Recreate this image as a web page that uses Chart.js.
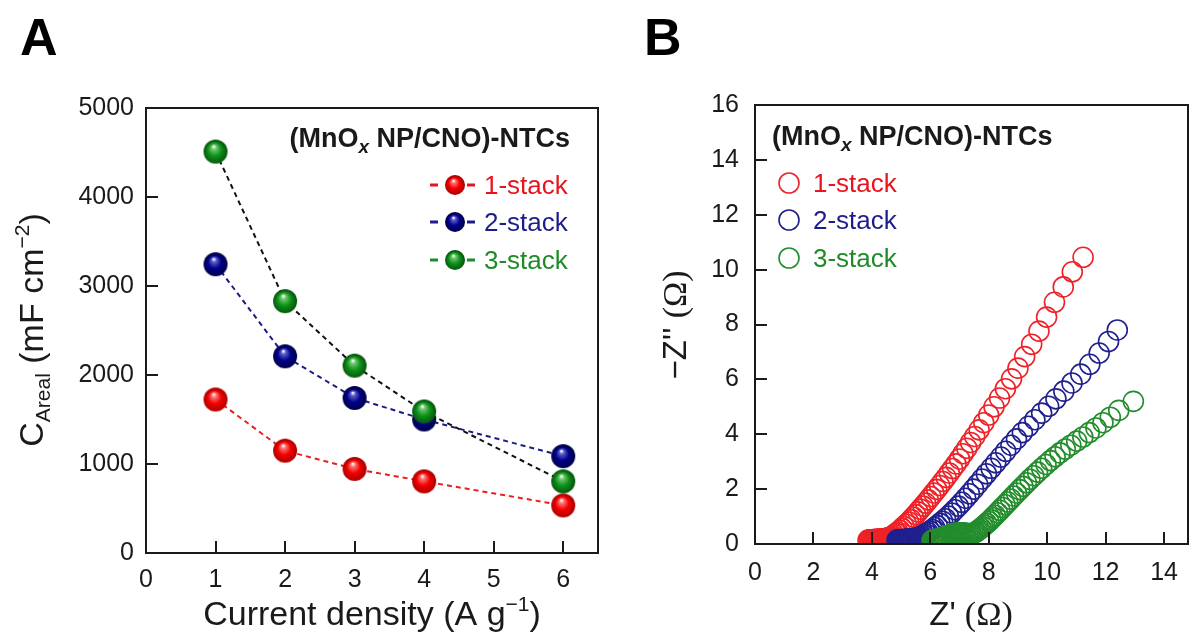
<!DOCTYPE html>
<html><head><meta charset="utf-8">
<script src="https://cdn.jsdelivr.net/npm/chart.js@4.4.1/dist/chart.umd.min.js"></script>
<style>
html,body{margin:0;padding:0;background:#fff;}
#wrap{position:relative;width:1192px;height:638px;overflow:hidden;background:#fff;}
canvas{position:absolute;top:0;}
#ca{left:0;} #cb{left:600px;}
</style></head><body>
<div id="wrap"><canvas id="ca" width="600" height="638"></canvas><canvas id="cb" width="592" height="638"></canvas></div>
<script>
// ---------- DATA ----------
const seriesNames = ['1-stack', '2-stack', '3-stack'];
// Panel A
const currentDensity = [1, 2, 3, 4, 6];
const cAreal1 = [1725, 1150, 945, 805, 535];
const cAreal2 = [3245, 2210, 1742, 1500, 1088];
const cAreal3 = [4510, 2830, 2105, 1590, 805];
const xTicksA = [0, 1, 2, 3, 4, 5, 6];
const yTicksA = [0, 1000, 2000, 3000, 4000, 5000];
// Panel B (Z', -Z'')
const nyquist1 = [[3.87,0.14],[3.90,0.14],[3.93,0.15],[3.96,0.15],[3.99,0.15],[4.02,0.15],[4.05,0.16],[4.08,0.16],[4.11,0.16],[4.14,0.16],[4.17,0.17],[4.20,0.17],[4.23,0.17],[4.26,0.17],[4.29,0.18],[4.32,0.18],[4.35,0.18],[4.38,0.19],[4.41,0.19],[4.44,0.20],[4.47,0.20],[4.50,0.21],[4.54,0.22],[4.58,0.23],[4.62,0.24],
[4.66,0.25],[4.71,0.29],[4.77,0.34],[4.83,0.39],[4.89,0.44],[4.96,0.50],[5.03,0.57],[5.10,0.64],[5.18,0.72],[5.26,0.80],[5.34,0.89],[5.42,0.98],[5.50,1.07],[5.58,1.17],[5.66,1.27],[5.75,1.38],[5.84,1.49],[5.93,1.61],[6.02,1.73],[6.12,1.86],[6.22,1.99],[6.32,2.13],[6.43,2.28],[6.54,2.43],[6.65,2.59],[6.76,2.75],[6.88,2.92],[7.00,3.10],[7.12,3.29],[7.25,3.49],[7.38,3.70],[7.52,3.92],[7.67,4.16],[7.83,4.42],[8.00,4.70],[8.18,5.00],[8.37,5.32],[8.57,5.66],[8.78,6.02],[9.00,6.41],[9.23,6.83],[9.47,7.28],[9.72,7.76],[9.98,8.27],[10.25,8.81],[10.55,9.37],[10.86,9.92],[11.23,10.45]];
const nyquist2 = [[4.86,0.14],[4.89,0.14],[4.92,0.15],[4.95,0.15],[4.98,0.15],[5.01,0.15],[5.04,0.16],[5.07,0.16],[5.10,0.16],[5.13,0.16],[5.16,0.17],[5.19,0.17],[5.22,0.17],[5.25,0.17],[5.28,0.18],[5.31,0.18],[5.34,0.18],[5.37,0.19],[5.40,0.19],[5.44,0.20],[5.48,0.21],[5.52,0.22],[5.56,0.23],[5.61,0.24],[5.66,0.26],
[5.72,0.29],[5.78,0.33],[5.85,0.37],[5.92,0.42],[5.99,0.47],[6.07,0.53],[6.15,0.60],[6.24,0.67],[6.33,0.75],[6.42,0.83],[6.52,0.92],[6.62,1.02],[6.73,1.13],[6.84,1.25],[6.96,1.38],[7.08,1.52],[7.21,1.67],[7.34,1.83],[7.48,2.00],[7.62,2.18],[7.77,2.37],[7.92,2.56],[8.08,2.76],[8.24,2.96],[8.41,3.17],[8.58,3.38],[8.76,3.60],[8.95,3.83],[9.15,4.06],[9.36,4.29],[9.58,4.53],[9.81,4.77],[10.05,5.02],[10.30,5.29],[10.57,5.57],[10.85,5.87],[11.15,6.19],[11.46,6.55],[11.78,6.96],[12.10,7.38],[12.40,7.80]];
const nyquist3 = [[6.06,0.13],[6.10,0.14],[6.14,0.15],[6.18,0.16],[6.22,0.17],[6.26,0.18],[6.30,0.19],[6.34,0.20],[6.38,0.22],[6.42,0.23],[6.46,0.25],[6.50,0.26],[6.55,0.28],[6.60,0.30],[6.65,0.32],[6.70,0.34],[6.75,0.36],[6.80,0.38],[6.86,0.39],[6.92,0.40],[6.98,0.41],[7.04,0.41],[7.10,0.41],[7.16,0.40],[7.22,0.39],[7.28,0.38],[7.34,0.38],[7.40,0.38],[7.46,0.39],[7.52,0.41],
[7.57,0.44],[7.62,0.48],[7.68,0.53],[7.74,0.58],[7.80,0.63],[7.86,0.69],[7.93,0.75],[8.00,0.82],[8.07,0.89],[8.14,0.97],[8.22,1.05],[8.30,1.14],[8.38,1.23],[8.47,1.33],[8.56,1.43],[8.65,1.53],[8.75,1.64],[8.85,1.75],[8.95,1.86],[9.06,1.98],[9.17,2.10],[9.29,2.23],[9.41,2.36],[9.54,2.49],[9.67,2.62],[9.81,2.76],[9.96,2.90],[10.11,3.04],[10.27,3.18],[10.44,3.32],[10.62,3.46],[10.81,3.60],[11.01,3.75],[11.22,3.90],[11.44,4.06],[11.67,4.23],[11.91,4.42],[12.16,4.62],[12.45,4.87],[12.95,5.20]];
const xTicksB = [0, 2, 4, 6, 8, 10, 12, 14];
const yTicksB = [0, 2, 4, 6, 8, 10, 12, 14, 16];

// ---------- STYLE ----------
const SANS = '"Liberation Sans", Arial, sans-serif';
const SERIF = '"Liberation Serif", "Times New Roman", serif';
const F = (size, w) => `${w || ''} ${size}px ${SANS}`;
const FS = (size) => `${size}px ${SERIF}`;
const INK = '#1a1a1a';
const textCol = ['#e8141c', '#1c1c8c', '#1e8a28'];
const lineColA = ['#ee1c1c', '#1c1c86', '#111111'];
const ringCol = ['#ee2228', '#20208e', '#238c2c'];

function makeSphere(base, light, dark, r) {
  const c = document.createElement('canvas');
  const s = 2 * r + 2; c.width = s; c.height = s;
  const g = c.getContext('2d'); const cx = s / 2, cy = s / 2;
  const grad = g.createRadialGradient(cx - r * 0.15, cy - r * 0.45, r * 0.04, cx, cy + r * 0.1, r * 1.05);
  grad.addColorStop(0, '#ffffff');
  grad.addColorStop(0.16, light);
  grad.addColorStop(0.5, base);
  grad.addColorStop(1, dark);
  g.fillStyle = grad; g.beginPath(); g.arc(cx, cy, r, 0, Math.PI * 2); g.fill();
  return c;
}
const spheres = [
  makeSphere('#f20000', '#ff7070', '#a00000', 12),
  makeSphere('#00008c', '#5a5ac8', '#00003a', 12),
  makeSphere('#10921c', '#70c870', '#004c08', 12)
];
const legendSpheres = [
  makeSphere('#f20000', '#ff7070', '#a00000', 10),
  makeSphere('#00008c', '#5a5ac8', '#00003a', 10),
  makeSphere('#10921c', '#70c870', '#004c08', 10)
];

function rich(ctx, segs, x, y, rot, align) {
  ctx.save(); ctx.translate(x, y); if (rot) ctx.rotate(rot);
  ctx.textBaseline = 'alphabetic'; ctx.textAlign = 'left';
  let w = 0;
  segs.forEach(s => { ctx.font = s.f; s.w = ctx.measureText(s.t).width; w += s.w; });
  let cx = align === 'center' ? -w / 2 : align === 'right' ? -w : 0;
  segs.forEach(s => { ctx.font = s.f; ctx.fillStyle = s.c || INK; ctx.fillText(s.t, cx, s.dy || 0); cx += s.w; });
  ctx.restore();
}
function drawFrame(chart, xTicks, yTicks) {
  const { ctx, chartArea: a, scales: { x, y } } = chart;
  ctx.save(); ctx.strokeStyle = INK; ctx.lineWidth = 2;
  ctx.strokeRect(a.left, a.top, a.right - a.left, a.bottom - a.top);
  ctx.beginPath();
  xTicks.forEach(v => { const p = Math.round(x.getPixelForValue(v)); ctx.moveTo(p, a.bottom); ctx.lineTo(p, a.bottom - 12); });
  yTicks.forEach(v => { const p = Math.round(y.getPixelForValue(v)); ctx.moveTo(a.left, p); ctx.lineTo(a.left + 12, p); });
  ctx.stroke(); ctx.restore();
}
const tickFont = { family: SANS, size: 25 };
function axisCommon(min, max, tickVals, pad, fit) {
  return {
    type: 'linear', min, max,
    afterBuildTicks: s => { s.ticks = tickVals.map(v => ({ value: v })); },
    afterFit: s => { fit(s); s.paddingLeft = 0; s.paddingRight = 0; s.paddingTop = 0; s.paddingBottom = 0; },
    grid: { display: false, drawTicks: false, tickLength: 0 },
    border: { display: false },
    ticks: { font: tickFont, color: INK, padding: pad, maxRotation: 0, autoSkip: false, callback: v => String(v) }
  };
}

// ---------- PANEL A ----------
const plugA = {
  id: 'plugA',
  afterDraw(chart) {
    const ctx = chart.ctx;
    drawFrame(chart, xTicksA, yTicksA);
    rich(ctx, [{ t: 'A', f: F(52, 'bold'), c: '#000' }], 20, 55, 0, 'left');
    rich(ctx, [{ t: 'Current density (A g', f: F(34) }, { t: '\u22121', f: F(21), dy: -14 }, { t: ')', f: F(34) }], 372, 625, 0, 'center');
    rich(ctx, [{ t: 'C', f: F(34) }, { t: 'Areal', f: F(21), dy: 7 }, { t: ' (mF cm', f: F(34) }, { t: '\u22122', f: F(21), dy: -14 }, { t: ')', f: F(34) }], 43, 330, -Math.PI / 2, 'center');
    rich(ctx, [{ t: '(MnO', f: F(27, 'bold') }, { t: 'x', f: F(19, 'italic bold'), dy: 6 }, { t: ' NP/CNO)-NTCs', f: F(27, 'bold') }], 570, 147, 0, 'right');
    const ys = [185, 222, 260];
    seriesNames.forEach((n, i) => {
      const y = ys[i];
      ctx.save();
      ctx.strokeStyle = textCol[i]; ctx.lineWidth = 3;
      ctx.beginPath(); ctx.moveTo(430, y); ctx.lineTo(438, y); ctx.moveTo(467, y); ctx.lineTo(475, y); ctx.stroke();
      const sp = legendSpheres[i];
      ctx.drawImage(sp, 455 - sp.width / 2, y - sp.height / 2);
      ctx.restore();
      rich(ctx, [{ t: n, f: F(26), c: textCol[i] }], 484, y + 9, 0, 'left');
    });
  }
};
new Chart(document.getElementById('ca'), {
  type: 'scatter',
  data: {
    datasets: [cAreal1, cAreal2, cAreal3].map((arr, i) => ({
      label: seriesNames[i],
      data: currentDensity.map((x, j) => ({ x, y: arr[j] })),
      showLine: true, borderColor: lineColA[i], borderWidth: 2, borderDash: [5, 4],
      pointStyle: spheres[i], pointRadius: 12, order: 3 - i
    }))
  },
  options: {
    responsive: false, animation: false, devicePixelRatio: 1, events: [],
    layout: { autoPadding: false, padding: { left: 0, top: 108, right: 2, bottom: 0 } },
    plugins: { legend: { display: false }, tooltip: { enabled: false } },
    scales: {
      x: axisCommon(0, 6.5, xTicksA, 12, s => { s.height = 85; }),
      y: axisCommon(0, 5000, yTicksA, 12, s => { s.width = 146; })
    }
  },
  plugins: [plugA]
});

// ---------- PANEL B ----------
const plugB = {
  id: 'plugB',
  afterDraw(chart) {
    const ctx = chart.ctx;
    drawFrame(chart, xTicksB, yTicksB);
    rich(ctx, [{ t: 'B', f: F(52, 'bold'), c: '#000' }], 44, 55, 0, 'left');
    rich(ctx, [{ t: "Z' ", f: F(33) }, { t: '(\u03A9)', f: FS(34) }], 371, 625, 0, 'center');
    rich(ctx, [{ t: "\u2212Z'' ", f: F(33) }, { t: '(\u03A9)', f: FS(34) }], 86, 325, -Math.PI / 2, 'center');
    rich(ctx, [{ t: '(MnO', f: F(27, 'bold') }, { t: 'x', f: F(19, 'italic bold'), dy: 6 }, { t: ' NP/CNO)-NTCs', f: F(27, 'bold') }], 172, 145, 0, 'left');
    const ys = [183, 220, 258];
    seriesNames.forEach((n, i) => {
      const y = ys[i];
      ctx.save(); ctx.strokeStyle = ringCol[i]; ctx.lineWidth = 1.6;
      ctx.beginPath(); ctx.arc(189, y, 10, 0, Math.PI * 2); ctx.stroke(); ctx.restore();
      rich(ctx, [{ t: n, f: F(26), c: textCol[i] }], 213, y + 9, 0, 'left');
    });
  }
};
new Chart(document.getElementById('cb'), {
  type: 'scatter',
  data: {
    datasets: [nyquist1, nyquist2, nyquist3].map((arr, i) => ({
      label: seriesNames[i],
      data: arr.map(p => ({ x: p[0], y: p[1] })),
      showLine: false, pointStyle: 'circle', pointRadius: 10, pointBorderWidth: 1.6,
      pointBorderColor: ringCol[i], pointBackgroundColor: 'rgba(0,0,0,0)', borderColor: ringCol[i],
      clip: 0, order: 3 - i
    }))
  },
  options: {
    responsive: false, animation: false, devicePixelRatio: 1, events: [],
    layout: { autoPadding: false, padding: { left: 0, top: 105, right: 4, bottom: 0 } },
    plugins: { legend: { display: false }, tooltip: { enabled: false } },
    scales: {
      x: axisCommon(0, 14.82, xTicksB, 14, s => { s.height = 94; }),
      y: axisCommon(0, 16, yTicksB, 16, s => { s.width = 155; })
    }
  },
  plugins: [plugB]
});
</script>
</body></html>
